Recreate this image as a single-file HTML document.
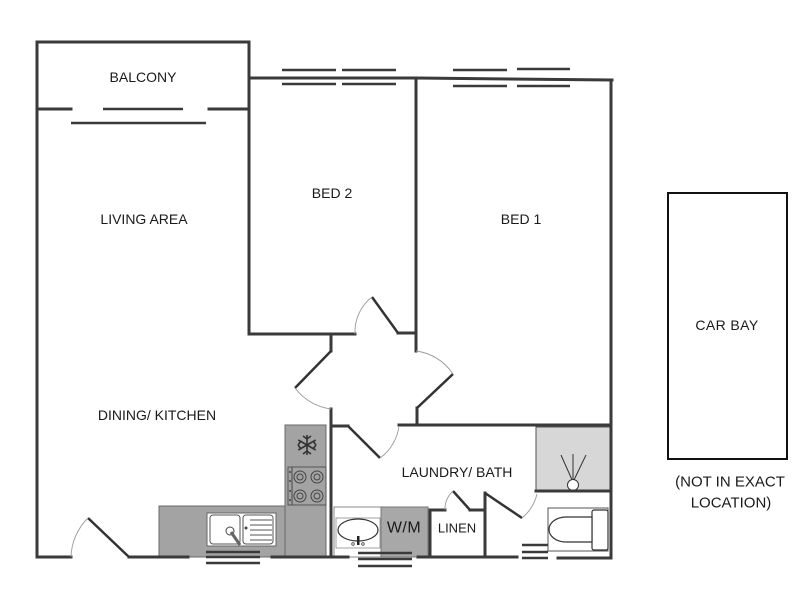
<!DOCTYPE html>
<html><head><meta charset="utf-8"><style>
html,body{margin:0;padding:0;background:#fff;}
svg{display:block;}
text{font-family:"Liberation Sans",sans-serif;fill:#1a1a1a;}
</style></head><body>
<svg width="800" height="600" viewBox="0 0 800 600" xmlns="http://www.w3.org/2000/svg">
<rect width="800" height="600" fill="#fff"/>

<!-- fills -->
<rect x="159" y="506" width="127" height="51" fill="#a3a3a3" stroke="#6a6a6a" stroke-width="1"/>
<rect x="285" y="425" width="41" height="132" fill="#a3a3a3" stroke="#6a6a6a" stroke-width="1"/>
<rect x="536" y="427" width="75" height="64" fill="#d7d7d7" stroke="#555" stroke-width="1"/>
<rect x="334" y="507" width="47" height="50" fill="#fff" stroke="#888" stroke-width="1"/>
<rect x="381" y="507" width="47" height="50" fill="#a8a8a8" stroke="#777" stroke-width="1"/>

<!-- snowflake -->
<g stroke="#333" stroke-width="1.6" fill="none">
<line x1="307" y1="435" x2="307" y2="455"/>
<line x1="298.3" y1="440" x2="315.7" y2="450"/>
<line x1="298.3" y1="450" x2="315.7" y2="440"/>
<path d="M303 436 L307 439 L311 436 M303 454 L307 451 L311 454 M298 445 L301 441 M298 445 L301 449 M316 445 L313 441 M316 445 L313 449"/>
</g>
<!-- cooktop -->
<rect x="288" y="467" width="38" height="38" fill="#a3a3a3" stroke="#555" stroke-width="1"/>
<line x1="292" y1="467" x2="292" y2="505" stroke="#444" stroke-width="1"/>
<g fill="none" stroke="#444" stroke-width="1">
<circle cx="300" cy="477" r="6"/><circle cx="300" cy="477" r="3"/>
<circle cx="317" cy="477" r="6"/><circle cx="317" cy="477" r="3"/>
<circle cx="300" cy="496" r="6"/><circle cx="300" cy="496" r="3"/>
<circle cx="317" cy="496" r="6"/><circle cx="317" cy="496" r="3"/>
</g>
<g fill="#444"><circle cx="290" cy="472" r="1"/><circle cx="290" cy="481" r="1"/><circle cx="290" cy="491" r="1"/><circle cx="290" cy="500" r="1"/></g>

<!-- kitchen sink -->
<rect x="207" y="513" width="69" height="33" fill="#fff" stroke="#666" stroke-width="1"/>
<rect x="210" y="515" width="30" height="29" rx="3" fill="#fff" stroke="#555" stroke-width="1"/>
<rect x="243" y="515" width="30" height="29" rx="3" fill="#fff" stroke="#555" stroke-width="1"/>
<g stroke="#555" stroke-width="1"><line x1="250" y1="520" x2="272" y2="520"/><line x1="250" y1="525" x2="272" y2="525"/><line x1="250" y1="530" x2="272" y2="530"/><line x1="250" y1="535" x2="272" y2="535"/><line x1="250" y1="540" x2="272" y2="540"/></g>
<circle cx="246" cy="528" r="1.5" fill="#444"/>
<circle cx="230" cy="531" r="4" fill="#fff" stroke="#444" stroke-width="1"/>
<line x1="231" y1="532" x2="240" y2="545" stroke="#666" stroke-width="3"/>

<!-- laundry basin -->
<rect x="336" y="518" width="44" height="30" fill="#fff" stroke="#888" stroke-width="0.8"/>
<ellipse cx="358" cy="530" rx="20" ry="11" fill="#fff" stroke="#333" stroke-width="1.2"/>
<rect x="357" y="536" width="2.5" height="9" fill="#222"/>
<circle cx="353" cy="544" r="1.3" fill="none" stroke="#444" stroke-width="0.8"/>
<circle cx="363" cy="544" r="1.3" fill="none" stroke="#444" stroke-width="0.8"/>

<!-- shower head -->
<g stroke="#333" stroke-width="1" fill="none">
<line x1="573" y1="482" x2="561" y2="455"/>
<line x1="573" y1="482" x2="573" y2="454"/>
<line x1="573" y1="482" x2="586" y2="455"/>
</g>
<circle cx="573" cy="485" r="5.5" fill="#fff" stroke="#333" stroke-width="1"/>

<!-- toilet -->
<rect x="548" y="508" width="60" height="43" fill="#fff" stroke="#555" stroke-width="1"/>
<rect x="592" y="510" width="16" height="40" rx="2" fill="#fff" stroke="#333" stroke-width="1.2"/>
<path d="M592 517 H566 A17 12.5 0 0 0 566 542 H592 Z" fill="#fff" stroke="#333" stroke-width="1.2"/>

<!-- walls -->
<g stroke="#3a3a3a" stroke-width="3" fill="none" stroke-linecap="square" stroke-linejoin="miter">
<path d="M37 42 H249"/>
<path d="M37 42 V557 H71"/>
<path d="M129 557 H188"/>
<path d="M272 557 H348"/>
<path d="M418 557 H517"/>
<path d="M558 558 H611"/>
<path d="M611 80 V558"/>
<path d="M249 42 V334 H355"/>
<path d="M37 109 H71"/>
<path d="M209 109 H249"/>
<path d="M249 78 L416 78 L612 80"/>
<path d="M416 78 V351"/>
<path d="M416 333 H398"/>
<path d="M331 334 V351"/>
<path d="M331 409 V557"/>
<path d="M417 408 V425"/>
<path d="M399 425 H611"/>
<path d="M331 426 H348"/>
<path d="M536 491 H611"/>
<path d="M430 510 V557"/>
<path d="M430 510 H445"/>
<path d="M470 510 H485"/>
<path d="M485 493 V557"/>
</g>
<!-- door leaves -->
<g stroke="#333" stroke-width="2.5" fill="none">
<path d="M331 351 L295 388"/>
<path d="M398 333 L372 297"/>
<path d="M453 374 L417 408"/>
<path d="M348 426 L380 458"/>
<path d="M129 557 L88 518"/>
<path d="M470 510 L453 491"/>
<path d="M485 493 L522 518"/>
</g>
<!-- door arcs -->
<g stroke="#9a9a9a" stroke-width="0.9" fill="none">
<path d="M372 297 A44 44 0 0 0 355 334"/>
<path d="M295 388 A54 54 0 0 0 331 409"/>
<path d="M453 374 A52 52 0 0 0 416 351"/>
<path d="M380 458 A47 47 0 0 0 399 426"/>
<path d="M88 518 A57 57 0 0 0 71 557"/>
<path d="M453 491 A25 25 0 0 0 445 510"/>
<path d="M522 518 A45 45 0 0 0 537 494"/>
</g>
<!-- windows -->
<g stroke="#3a3a3a" stroke-width="2.5" fill="none">
<path d="M103 109 H183 M71 123 H206"/>
<path d="M282 70 H336 M342 70 H396 M282 84 H336 M342 84 H396"/>
<path d="M453 70 H507 M517 69 H570 M453 86 H507 M517 86 H570"/>
<path d="M206 552 H260 M206 557 H260 M206 563 H260"/>
<path d="M358 553 H412 M358 559 H412 M358 566 H412"/>
<path d="M522 545 H548 M522 552 H548 M522 558 H548"/>
</g>

<!-- car bay -->
<rect x="668" y="193" width="119" height="266" fill="none" stroke="#111" stroke-width="2"/>

<!-- labels -->
<g font-size="14" text-anchor="middle" dominant-baseline="central">
<text x="143" y="77">BALCONY</text>
<text x="144" y="219">LIVING AREA</text>
<text x="332" y="193">BED 2</text>
<text x="521" y="219">BED 1</text>
<text x="157" y="415">DINING/ KITCHEN</text>
<text x="457" y="472">LAUNDRY/ BATH</text>
<text x="457" y="528" font-size="13">LINEN</text>
<text x="404" y="528" font-size="16" letter-spacing="0.5">W/M</text>
<text x="727" y="325" letter-spacing="0.4">CAR BAY</text>
<text x="730" y="482" font-size="15">(NOT IN EXACT</text>
<text x="731" y="503" font-size="15">LOCATION)</text>
</g>
</svg>
</body></html>
